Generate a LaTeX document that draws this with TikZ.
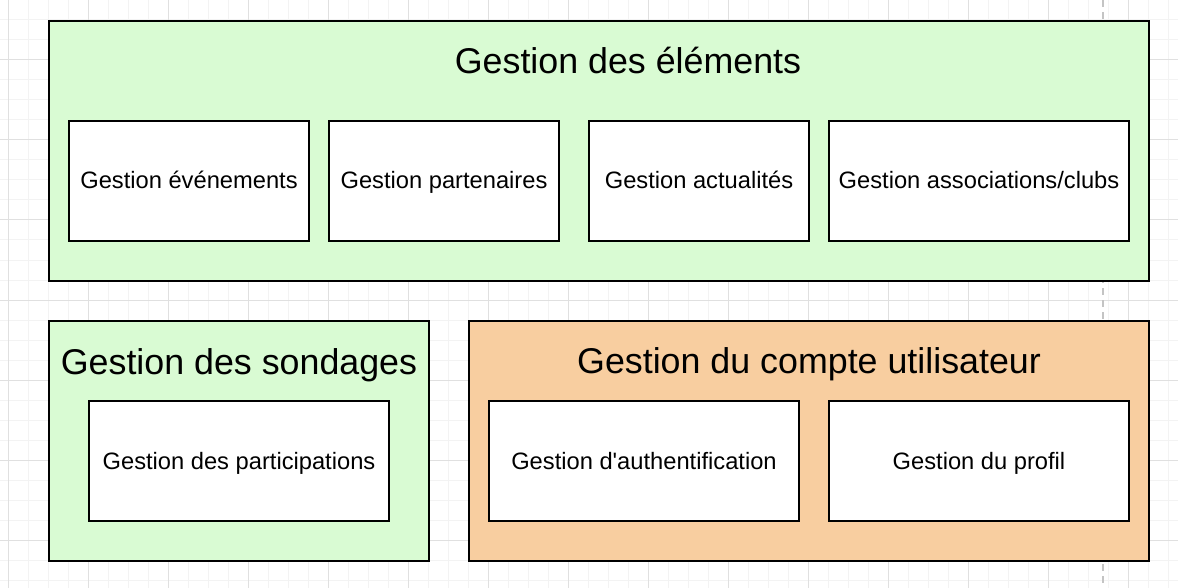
\documentclass[tikz,border=0pt]{standalone}
\usepackage{fontspec}
\setmainfont{Liberation Sans}
\definecolor{gridminor}{HTML}{F3F3F3}
\definecolor{gridmajor}{HTML}{E0E0E0}
\definecolor{greenfill}{HTML}{D9FBD3}
\definecolor{orangefill}{HTML}{F8CEA0}
\definecolor{guide}{HTML}{C4C4C4}
\begin{document}
\begin{tikzpicture}[x=1pt,y=-1pt,
  container/.style={draw=black,line width=2.2pt,inner sep=0pt,rectangle},
  greenbox/.style={container,fill=greenfill},
  orangebox/.style={container,fill=orangefill},
  itembox/.style={draw=black,line width=2.2pt,fill=white,inner sep=0pt,rectangle,
    minimum height=120pt,text height=20pt,text depth=4pt,
    font=\fontsize{23.7}{28}\selectfont},
  titletext/.style={anchor=base,inner sep=0pt,font=\fontsize{35.8}{42}\selectfont},
  minorline/.style={draw=gridminor,line width=1pt},
  majorline/.style={draw=gridmajor,line width=1pt}]
\useasboundingbox (0,0) rectangle (1178,588);
\fill[white] (0,0) rectangle (1178,588);
% grid
\foreach \x in {8,28,...,1168} \draw[minorline] (\x,0) -- (\x,588);
\foreach \y in {0,20,...,580} \draw[minorline] (0,\y) -- (1178,\y);
\foreach \x in {8,88,...,1168} \draw[majorline] (\x,0) -- (\x,588);
\foreach \y in {60,140,...,580} \draw[majorline] (0,\y) -- (1178,\y);
% guide line
\coordinate (gtop) at (1103,0);
\coordinate (gbot) at (1103,588);
\draw[guide,line width=2pt,dash pattern=on 7pt off 5pt] (gtop) -- (gbot);
% Gestion des elements
\node[greenbox,minimum width=1100pt,minimum height=260pt] (elements) at (599,151) {};
\node[titletext] (elementsT) at (628,74) {Gestion des éléments};
\node[itembox,minimum width=240pt] (evenements) at (189,181) {Gestion événements};
\node[itembox,minimum width=230pt] (partenaires) at (444,181) {Gestion partenaires};
\node[itembox,minimum width=220pt] (actualites) at (699,181) {Gestion actualités};
\node[itembox,minimum width=300pt] (associations) at (979,181) {Gestion associations/clubs};
% Gestion des sondages
\node[greenbox,minimum width=380pt,minimum height=240pt] (sondages) at (239,441) {};
\node[titletext] (sondagesT) at (239,374) {Gestion des sondages};
\node[itembox,minimum width=300pt] (participations) at (239,461) {Gestion des participations};
% Gestion du compte utilisateur
\node[orangebox,minimum width=680pt,minimum height=240pt] (compte) at (809,441) {};
\node[titletext] (compteT) at (809,373) {Gestion du compte utilisateur};
\node[itembox,minimum width=310pt] (auth) at (644,461) {Gestion d\textquotesingle authentification};
\node[itembox,minimum width=300pt] (profil) at (979,461) {Gestion du profil};
\end{tikzpicture}
\end{document}
